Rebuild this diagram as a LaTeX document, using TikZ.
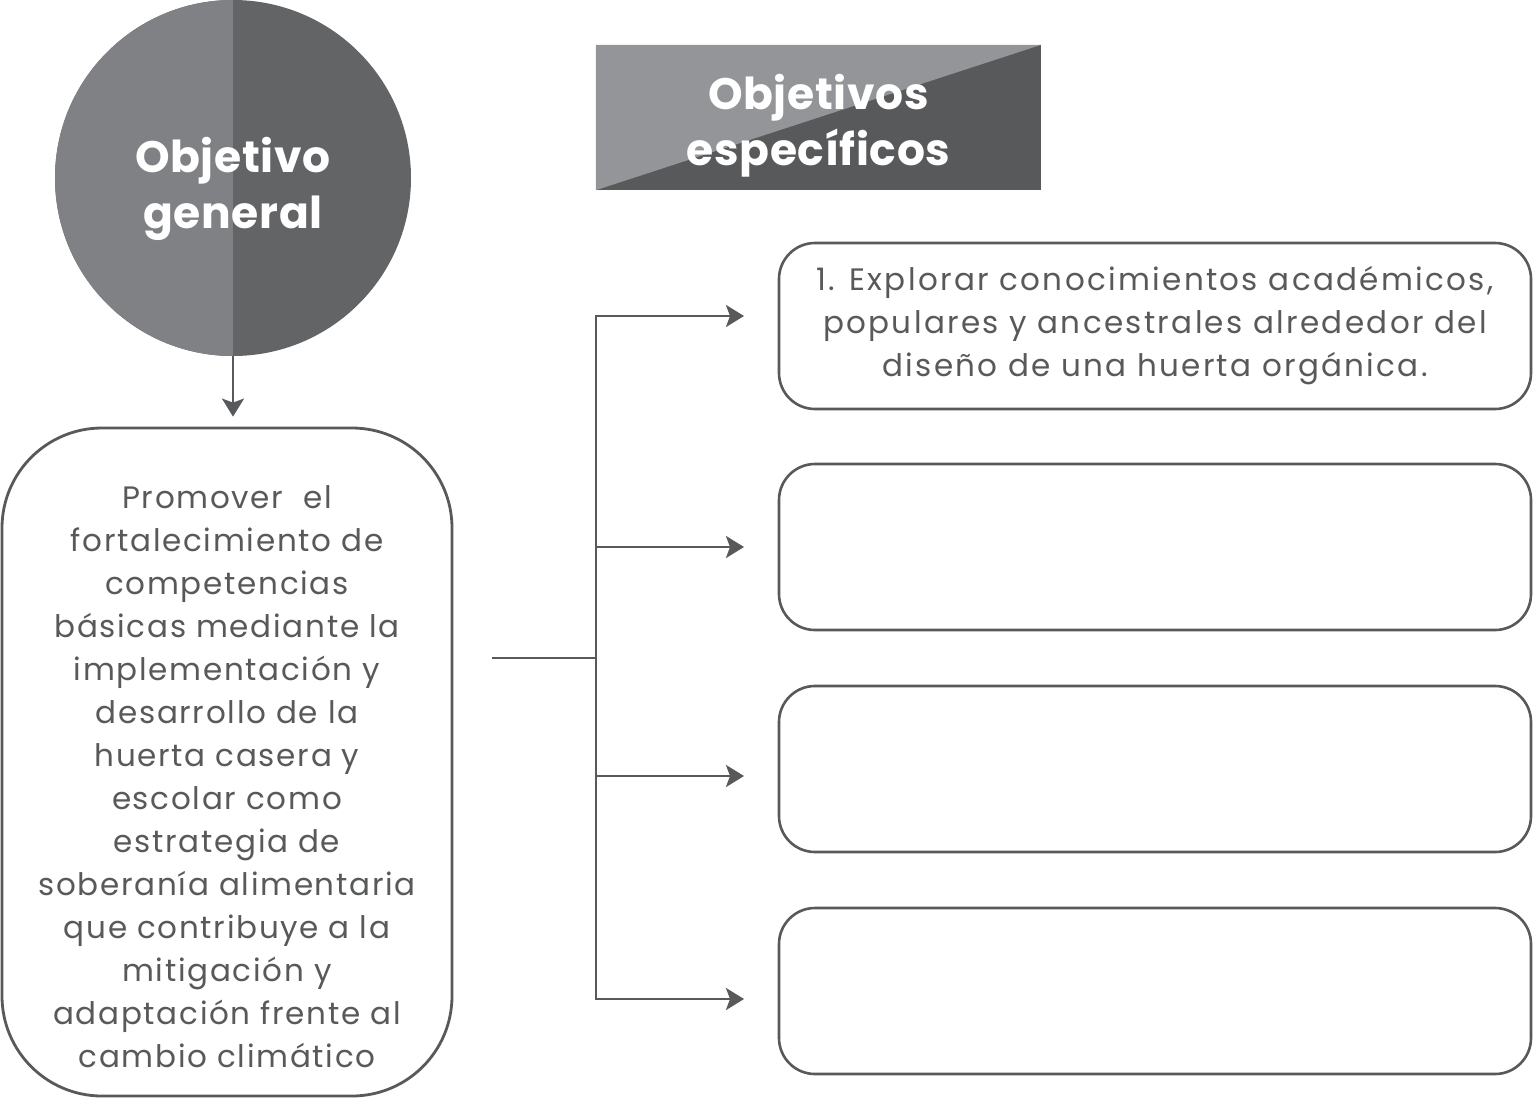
\documentclass[tikz,border=0pt]{standalone}
\usepackage{fontspec}
\setmainfont{Poppins}
\usetikzlibrary{arrows.meta}
\definecolor{lineg}{HTML}{58595B}
\definecolor{circL}{HTML}{808184}
\definecolor{circR}{HTML}{636466}
\definecolor{hdrL}{HTML}{939598}
\definecolor{hdrR}{HTML}{58595B}
\tikzset{
  conn/.style={draw=lineg, line width=2.6pt},
  arr/.style={conn, -{Stealth[length=18pt,width=22pt,inset=4pt]}},
  objbox/.style={draw=lineg, line width=2.6pt, rounded corners=36pt, minimum width=752pt, minimum height=166pt, inner sep=0pt, align=center, text=lineg, font=\fontsize{31}{43}\selectfont\addfontfeature{LetterSpace=7.5}},
  genbox/.style={draw=lineg, line width=2.8pt, rounded corners=100pt, minimum width=450pt, minimum height=668pt, inner sep=0pt},
  bodytext/.style={text=lineg, align=center, font=\fontsize{31}{43}\selectfont\addfontfeature{LetterSpace=5.5}},
  titletext/.style={text=white, align=center, font=\bfseries\fontsize{44}{56}\selectfont\addfontfeature{LetterSpace=1.5}}
}
\begin{document}
\begin{tikzpicture}[x=1pt,y=-1pt]
\useasboundingbox (0,0) rectangle (1533,1098);
% general objective circle
\node[circle, minimum size=356pt, inner sep=0pt, fill=circR] (og) at (233,178) {};
\begin{scope}
  \clip (og.center) circle (178pt);
  \fill[circL] (og.north) rectangle ([xshift=-190pt]og.south);
\end{scope}
\node[titletext] (ogt) at (233,189) {Objetivo\\general};
% header
\node[rectangle, minimum width=445pt, minimum height=145pt, inner sep=0pt, fill=hdrR] (hdr) at (818.5,117.5) {};
\fill[hdrL] (hdr.south west) -- (hdr.north east) -- (hdr.north west) -- cycle;
\node[titletext] (hdrt) at (818.5,126) {Objetivos\\específicos};
% general box
\node[genbox] (gen) at (227,762) {};
\node[bodytext] (gent) at (227,777) {Promover~ el\\fortalecimiento de\\competencias\\básicas mediante la\\implementación y\\desarrollo de la\\huerta casera y\\escolar como\\estrategia de\\soberanía alimentaria\\que contribuye a la\\mitigación y\\adaptación frente al\\cambio climático};
\draw[arr] (og.south) -- ([yshift=10pt]og.south |- gen.north);
% specific boxes
\node[objbox] (s1) at (1155,326) {1. Explorar conocimientos académicos,\\populares y ancestrales alrededor del\\diseño de una huerta orgánica.};
\node[objbox] (s2) at (1155,547) {};
\node[objbox] (s3) at (1155,769) {};
\node[objbox] (s4) at (1155,991) {};
% connectors
\coordinate (j0) at (492,658);
\coordinate (j) at (596,658);
\coordinate (a1) at (744,316);
\coordinate (a2) at (744,547);
\coordinate (a3) at (744,776);
\coordinate (a4) at (744,999);
\draw[conn] (j0) -- (j);
\draw[arr] (j) |- (a1);
\draw[arr] (j) |- (a2);
\draw[arr] (j) |- (a3);
\draw[arr] (j) |- (a4);
\end{tikzpicture}
\end{document}
